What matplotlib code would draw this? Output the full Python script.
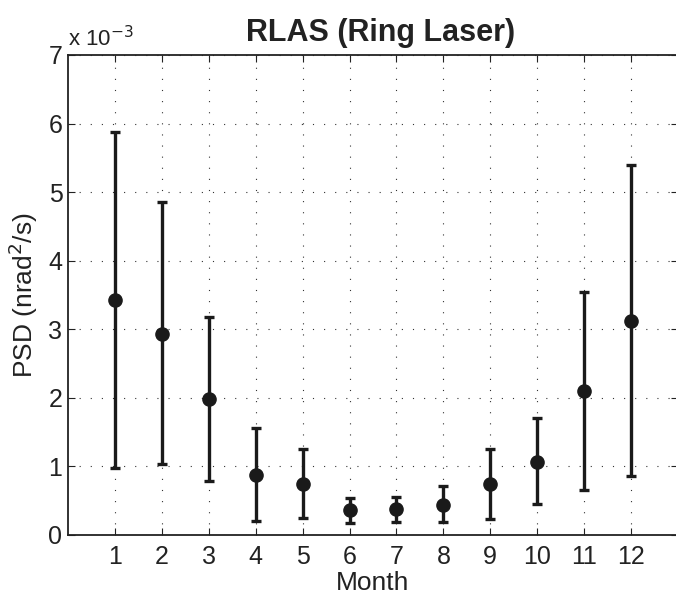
import matplotlib
matplotlib.use('Agg')
import matplotlib.pyplot as plt
from matplotlib.ticker import FuncFormatter
import numpy as np

plt.rcParams['font.family'] = ['Liberation Sans', 'DejaVu Sans']

# monthly PSD values (nrad^2/s)
months = [1, 2, 3, 4, 5, 6, 7, 8, 9, 10, 11, 12]
psd_mid = [3.42e-3, 2.93e-3, 1.98e-3, 0.875e-3, 0.75e-3, 0.36e-3,
           0.375e-3, 0.44e-3, 0.74e-3, 1.07e-3, 2.10e-3, 3.12e-3]
psd_upper = [5.87e-3, 4.85e-3, 3.18e-3, 1.555e-3, 1.25e-3, 0.54e-3,
             0.555e-3, 0.71e-3, 1.26e-3, 1.705e-3, 3.54e-3, 5.39e-3]
psd_lower = [0.977e-3, 1.03e-3, 0.79e-3, 0.20e-3, 0.25e-3, 0.18e-3,
             0.19e-3, 0.185e-3, 0.23e-3, 0.45e-3, 0.66e-3, 0.86e-3]
ytick_vals = [0, 1e-3, 2e-3, 3e-3, 4e-3, 5e-3, 6e-3, 7e-3]

mid = np.array(psd_mid)
err = [mid - np.array(psd_lower), np.array(psd_upper) - mid]

fig = plt.figure(figsize=(6.76, 5.96), dpi=100)
ax = fig.add_axes([68 / 676, 1 - 535 / 596, 610 / 676, 480 / 596])

ax.errorbar(months, mid, yerr=err, fmt='o', color='#1a1a1a', ecolor='#1a1a1a',
            elinewidth=2.4, capsize=3.8, capthick=2.4, markersize=9.5, zorder=3)

ax.set_xlim(0, 13)
ax.set_ylim(0, 7e-3)
ax.set_xticks(months)
ax.set_yticks(ytick_vals)
ax.yaxis.set_major_formatter(FuncFormatter(lambda v, p: f"{v * 1e3:g}"))

ax.grid(True, linestyle=(0, (1, 9)), color='#333333', linewidth=0.8)
ax.tick_params(direction='in', top=True, right=True, length=5, width=0.8,
               labelsize=18, colors='#222222')
ax.tick_params(axis='x', pad=7)
ax.tick_params(axis='y', pad=4)
for s in ax.spines.values():
    s.set_linewidth(1.3)
    s.set_color('#222222')

ax.set_xlabel('Month', fontsize=19, labelpad=1.5, color='#222222')
ax.set_ylabel('PSD (nrad$^2$/s)', fontsize=19, labelpad=6, color='#222222')
ax.set_title('RLAS (Ring Laser)', fontsize=22, fontweight='bold', pad=10,
             x=(381 - 68) / 610, color='#222222')
ax.text(0.0, 1.008, 'x 10$^{-3}$', transform=ax.transAxes, fontsize=16,
        ha='left', va='bottom', color='#222222')

fig.savefig('out.png', dpi=100)
